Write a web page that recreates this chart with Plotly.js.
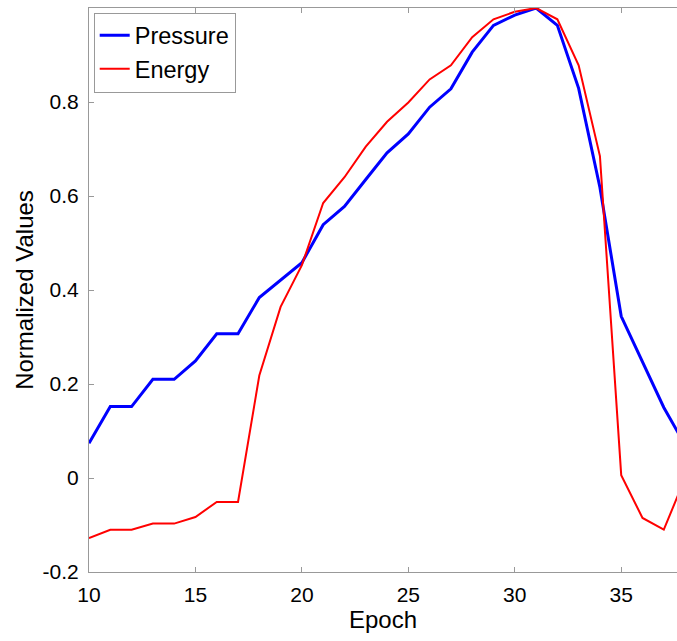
<!DOCTYPE html>
<html>
<head>
<meta charset="utf-8">
<script src="https://cdn.plot.ly/plotly-3.0.1.min.js"></script>
<style>html,body{margin:0;padding:0;background:#fff;}#chart{width:677px;height:641px;}</style>
</head>
<body>
<div id="chart"></div>
<script>
const epochs = [10,11,12,13,14,15,16,17,18,19,20,21,22,23,24,25,26,27,28,29,30,31,32,33,34,35,36,37,38];
const pressure = [0.074,0.152,0.152,0.21,0.21,0.249,0.307,0.307,0.384,0.421,0.458,0.539,0.578,0.635,0.692,0.732,0.789,0.828,0.906,0.963,0.985,1.0,0.963,0.829,0.618,0.344,0.247,0.150,0.07];
const energy = [-0.128,-0.110,-0.110,-0.097,-0.097,-0.083,-0.051,-0.051,0.218,0.364,0.453,0.585,0.640,0.705,0.758,0.799,0.848,0.878,0.938,0.976,0.992,1.0,0.976,0.878,0.685,0.006,-0.085,-0.110,0.0];
const xTickVals = [10,15,20,25,30,35];
const xTickText = ["10","15","20","25","30","35"];
const yTickVals = [-0.2,0,0.2,0.4,0.6,0.8];
const yTickText = ["-0.2","0","0.2","0.4","0.6","0.8"];

const font = "Liberation Sans, Arial, Helvetica, sans-serif";
const traces = [
  {x: epochs, y: pressure, type: 'scatter', mode: 'lines', name: 'Pressure',
   line: {color: '#0000ff', width: 3}, legendgroup: 'p'},
  {x: epochs, y: energy, type: 'scatter', mode: 'lines', name: 'Energy',
   line: {color: '#ff0000', width: 2}, legendgroup: 'e'}
];
const layout = {
  width: 677, height: 641,
  margin: {l: 89, r: 0, t: 8, b: 69, pad: 0},
  paper_bgcolor: '#fff', plot_bgcolor: '#fff',
  font: {family: font, size: 21, color: '#000'},
  showlegend: true,
  legend: {x: 0.008, y: 0.992, xanchor: 'left', yanchor: 'top',
    bordercolor: '#999', borderwidth: 1, bgcolor: '#fff',
    font: {family: font, size: 23.5, color: '#000'},
    traceorder: 'grouped', tracegroupgap: 0},
  xaxis: {range: [10, 37.62], tickvals: xTickVals, ticktext: xTickText,
    showgrid: false, zeroline: false, showline: true, linecolor: '#999', linewidth: 1,
    mirror: 'ticks', ticks: 'inside', ticklen: 5, tickcolor: '#999',
    ticklabelstandoff: 4,
    tickfont: {family: font, size: 21, color: '#000'},
    title: {text: 'Epoch', font: {family: font, size: 24, color: '#000'}, standoff: 3}},
  yaxis: {range: [-0.2, 1.0], tickvals: yTickVals, ticktext: yTickText,
    showgrid: false, zeroline: false, showline: true, linecolor: '#999', linewidth: 1,
    mirror: false, ticks: 'inside', ticklen: 5, tickcolor: '#999',
    ticklabelstandoff: 5,
    tickfont: {family: font, size: 21, color: '#000'},
    title: {text: 'Normalized Values', font: {family: font, size: 24, color: '#000'}, standoff: 2}}
};
Plotly.newPlot('chart', traces, layout, {displayModeBar: false, staticPlot: true});
</script>
</body>
</html>
